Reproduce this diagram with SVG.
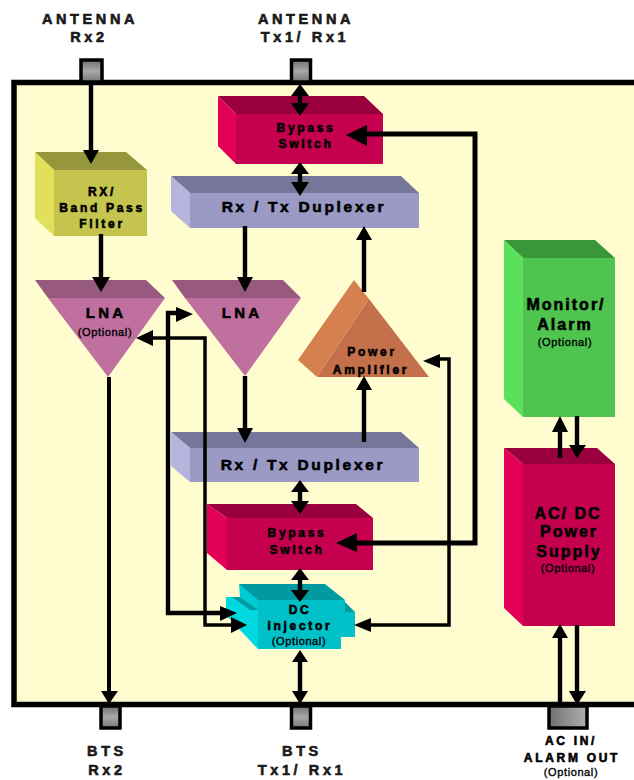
<svg xmlns="http://www.w3.org/2000/svg" width="634" height="780" viewBox="0 0 634 780">
<style>
text{font-family:"Liberation Sans",Arial,sans-serif;font-weight:700;fill:#000;text-anchor:middle;stroke:#000;stroke-width:.6}
.out{font-size:14.5px;letter-spacing:3.6px;fill:#1a1a1a;stroke:#1a1a1a}
.n{font-size:15px;letter-spacing:3.2px}
.s{font-size:12px;letter-spacing:2.7px}
.b{font-size:16px;letter-spacing:2px}
.d{font-size:15.5px;letter-spacing:2.7px}
.o{font-size:11px;font-weight:400;stroke-width:.35;letter-spacing:.6px}
.w{fill:none;stroke:#000;stroke-width:4.400}
.t{fill:none;stroke:#000;stroke-width:3}
.h{fill:#000}
.port{stroke:#000;stroke-width:3.5}
</style>
<defs>
<linearGradient id="pg" x1="0" y1="0" x2="0" y2="1"><stop offset="0" stop-color="#6f6f6f"/><stop offset=".5" stop-color="#a8a8a8"/><stop offset="1" stop-color="#757575"/></linearGradient>
<linearGradient id="pg2" x1="0" y1="0" x2="1" y2="0"><stop offset="0" stop-color="#707070"/><stop offset="1" stop-color="#b0b0b0"/></linearGradient>
</defs>
<rect width="634" height="780" fill="#fff"/>
<path d="M640 82.500H14V704.500H640" fill="#fffdcf" stroke="#000" stroke-width="5.500"/>

<g id="port-rx2-in"><rect class="port" x="81" y="60" width="21" height="22" fill="url(#pg)"/></g>
<g id="port-tx1-in"><rect class="port" x="291.500" y="60" width="19" height="22" fill="url(#pg)"/></g>
<g id="port-rx2-out"><rect class="port" x="101" y="706" width="19" height="22" fill="url(#pg)"/></g>
<g id="port-tx1-out"><rect class="port" x="291.500" y="706" width="19" height="22" fill="url(#pg)"/></g>
<g id="port-ac"><rect class="port" x="549" y="706" width="38" height="22" fill="url(#pg2)"/></g>

<g id="bypass-top">
<polygon points="218,96 364,96 383,114 236,114" fill="#99003d"/><polygon points="218,96 236,114 236,164 218,146" fill="#e30057"/><rect x="236" y="114" width="147" height="50" fill="#c4004f"/>
<text class="s" x="306" y="132">Bypass</text><text class="s" x="306" y="148">Switch</text></g>

<g id="duplexer-top">
<polygon points="171,176 401,176 419,193 190,193" fill="#76769b"/><polygon points="171,176 190,193 190,228 171,211" fill="#b4b4dc"/><rect x="190" y="193" width="229" height="35" fill="#9a9ac4"/>
<text class="d" x="304" y="212">Rx / Tx Duplexer</text></g>

<g id="filter">
<polygon points="35,152 126,152 147,170 54,170" fill="#96963c"/><polygon points="35,152 54,170 54,236 35,218" fill="#e0e05a"/><rect x="54" y="170" width="93" height="66" fill="#c4c44e"/>
<text class="s" x="102" y="196">RX/</text><text class="s" x="102" y="212">Band Pass</text><text class="s" x="102" y="228">Filter</text></g>

<g id="lna-1">
<polygon points="35,280 146,280 165,298 48,298" fill="#98597f"/><polygon points="48,298 165,298 108,377" fill="#c0709f"/>
<text class="n" x="106" y="318">LNA</text><text class="o" x="105" y="336">(Optional)</text></g>

<g id="lna-2">
<polygon points="172,280 283,280 301,298 185,298" fill="#98597f"/><polygon points="185,298 301,298 245,376" fill="#c0709f"/>
<text class="n" x="242" y="318">LNA</text></g>

<g id="power-amp">
<polygon points="354,280 298,360 317,377 369,299" fill="#d67f4f"/><polygon points="369,299 429,377 317,377" fill="#c4704a"/>
<text class="s" x="372" y="356">Power</text><text class="s" x="371" y="374">Amplifier</text></g>

<g id="duplexer-bottom">
<polygon points="171,432 401,432 419,448 190,448" fill="#76769b"/><polygon points="171,432 190,448 190,482 171,466" fill="#b4b4dc"/><rect x="190" y="448" width="229" height="34" fill="#9a9ac4"/>
<text class="d" x="303" y="470">Rx / Tx Duplexer</text></g>

<g id="bypass-bottom">
<polygon points="207,504 356,504 373,518 227,518" fill="#99003d"/><polygon points="207,504 227,518 227,570 207,553" fill="#e30057"/><rect x="227" y="518" width="146" height="52" fill="#c4004f"/>
<text class="s" x="297" y="537">Bypass</text><text class="s" x="297" y="554">Switch</text></g>

<g id="dc-injector">
<polygon points="239,584 325,584 345,600 345,612 355,612 345,602 258,602" fill="#009aa0"/>
<polygon points="239,584 258,600 258,612 240,597" fill="#00ccd4"/>
<polygon points="226,597 240,597 258,612 258,649 226,615" fill="#00d8e0"/>
<polygon points="232,597 240,597 258,610 250,610" fill="#009aa0"/>
<polygon points="258,600 345,600 345,612 355,612 355,637 341,637 341,649 258,649" fill="#00c0c8"/>
<text class="s" x="300" y="614">DC</text><text class="s" x="300" y="630">Injector</text><text class="o" x="299" y="645">(Optional)</text></g>

<g id="monitor">
<polygon points="504,240 595,240 615,258 523,258" fill="#389838"/><polygon points="504,240 523,258 523,417 504,399" fill="#5ae05a"/><rect x="523" y="258" width="92" height="159" fill="#4fc44f"/>
<text class="b" x="566" y="310">Monitor/</text><text class="b" x="565" y="330">Alarm</text><text class="o" x="565" y="346">(Optional)</text></g>

<g id="power-supply">
<polygon points="504,448 597,448 615,464 523,464" fill="#99003d"/><polygon points="504,448 523,464 523,626 504,608" fill="#e30057"/><rect x="523" y="464" width="92" height="162" fill="#c4004f"/>
<text class="b" x="568" y="519">AC/ DC</text><text class="b" x="569" y="537">Power</text><text class="b" x="569" y="557">Supply</text><text class="o" x="568" y="572">(Optional)</text></g>

<g id="connectors">
<path class="w" d="M91 84V150"/><polygon class="h" points="83,150 99,150 91,164"/>
<path class="w" d="M101 234V278"/><polygon class="h" points="92,277 110,277 101,292"/>
<path class="w" d="M245 226V278"/><polygon class="h" points="237,277 253,277 245,292"/>
<path class="w" d="M300 88V106"/><polygon class="h" points="300,84 291,96 309,96"/><polygon class="h" points="291,103 309,103 300,116"/>
<path class="w" d="M300 170V186"/><polygon class="h" points="300,162 291,174 309,174"/><polygon class="h" points="291,182 309,182 300,196"/>
<path class="w" d="M364 292V238"/><polygon class="h" points="364,226 356,240 372,240"/>
<path class="w" d="M364 442V388"/><polygon class="h" points="364,376 356,390 372,390"/>
<path class="w" d="M245 376V430"/><polygon class="h" points="237,428 253,428 245,443"/>
<path d="M350 543H475V134H360" fill="none" stroke="#000" stroke-width="5"/><polygon class="h" points="346,135 367,125 367,146"/><polygon class="h" points="336,543 357,533 357,552"/>
<path class="t" d="M109 377V692" style="stroke-width:4"/><polygon class="h" points="101,691 118,691 109,704"/>
<path class="w" d="M180 313H168V613H222"/><polygon class="h" points="193,314 176,307 176,322"/>
<path class="t" d="M150 338H205V625H232" style="stroke-width:3.500"/><polygon class="h" points="136,338 153,330 153,346"/>
<polygon class="h" points="237,613 220,606 220,621"/>
<polygon class="h" points="247,625 231,617 231,633"/>
<path class="t" d="M432 359H449V625H370" style="stroke-width:3.500"/><polygon class="h" points="423,361 440,354 440,368"/>
<polygon class="h" points="354,625 371,618 371,632"/>
<path class="w" d="M300 486V504"/><polygon class="h" points="300,480 291,492 309,492"/><polygon class="h" points="291,501 309,501 300,514"/>
<path class="w" d="M300 574V596"/><polygon class="h" points="300,568 291,580 309,580"/><polygon class="h" points="291,590 309,590 300,602"/>
<path class="w" d="M300 660V694"/><polygon class="h" points="300,650 292,662 308,662"/><polygon class="h" points="292,691 308,691 300,704"/>
<path class="w" d="M560 458V428"/><polygon class="h" points="560,416 552,432 568,432"/>
<path class="w" d="M577 416V448"/><polygon class="h" points="569,445 586,445 577,458"/>
<path class="w" d="M560 702V636"/><polygon class="h" points="560,624 552,638 568,638"/>
<path class="w" d="M577 625V692"/><polygon class="h" points="569,691 586,691 577,705"/>
</g>

<g id="labels">
<text class="out" x="90" y="24">ANTENNA</text><text class="out" x="89" y="42">Rx2</text>
<text class="out" x="306" y="24">ANTENNA</text><text class="out" x="305" y="42">Tx1/ Rx1</text>
<text class="out" x="107" y="756">BTS</text><text class="out" x="107" y="775">Rx2</text>
<text class="out" x="302" y="756">BTS</text><text class="out" x="302" y="775">Tx1/ Rx1</text>
<text class="s" x="571" y="745">AC IN/</text><text class="s" x="572" y="762">ALARM OUT</text><text class="o" x="571" y="776">(Optional)</text>
</g>
</svg>
